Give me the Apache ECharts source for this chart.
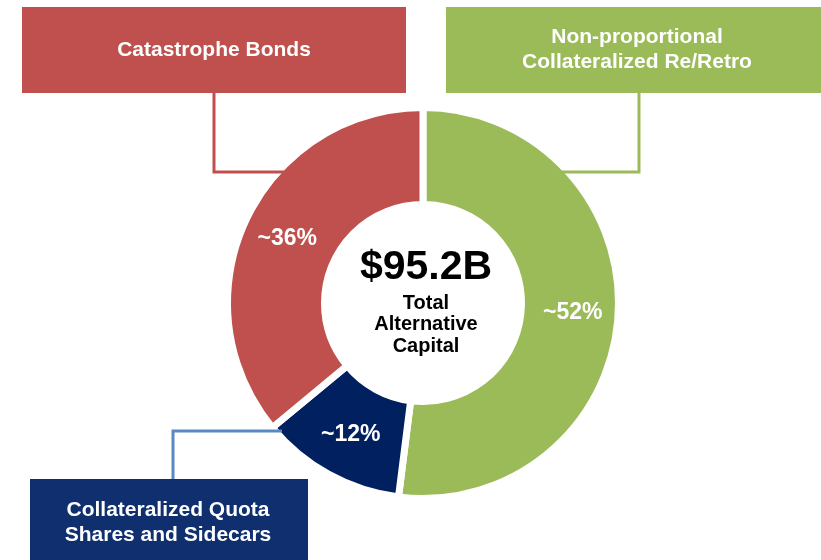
<!DOCTYPE html>
<html>
<head>
<meta charset="utf-8">
<title>Alternative Capital</title>
<script src="https://cdn.jsdelivr.net/npm/echarts@6/dist/echarts.min.js"></script>
<style>
  html, body { margin: 0; padding: 0; background: #ffffff; }
  #chart { width: 821px; height: 560px; }
</style>
</head>
<body>
<div id="chart"></div>
<script>
// Segments of alternative reinsurance capital (share of total, %)
const categories = [
  'Non-proportional\nCollateralized Re/Retro',
  'Collateralized Quota\nShares and Sidecars',
  'Catastrophe Bonds'
];
const shares = [52, 12, 36];
const shareLabels = ['~52%', '~12%', '~36%'];
const totalLabel = '$95.2B';
const totalCaption = ['Total', 'Alternative', 'Capital'];

const sliceColors = ['#9BBB59', '#002060', '#C0504D'];
const boxColors = ['#9BBB59', '#0F2F6E', '#C0504D'];
const lineColors = ['#9BBB59', '#5A88C4', '#C0504D'];
const FONT = 'Arial, "Liberation Sans", Helvetica, sans-serif';

const chart = echarts.init(document.getElementById('chart'), null, { renderer: 'canvas' });

// Callout boxes and their connectors (one per category, same order as categories)
const boxes = [
  { x: 446, y: 7, w: 390, h: 86, tx: 637, ty: 50 },
  { x: 30, y: 479, w: 278, h: 90, tx: 168, ty: 523 },
  { x: 22, y: 7, w: 384, h: 86, tx: 214, ty: 50 }
];
const connectors = [
  [[639, 93], [639, 172], [561, 172]],
  [[282, 431], [173, 431], [173, 484], [211, 484]],
  [[214, 93], [214, 172], [285, 172]]
];

const graphics = [];
categories.forEach((name, i) => {
  graphics.push({
    type: 'polyline', z: 4,
    shape: { points: connectors[i] },
    style: { stroke: lineColors[i], lineWidth: 3, fill: null }
  });
  graphics.push({
    type: 'rect', z: 5,
    shape: { x: boxes[i].x, y: boxes[i].y, width: boxes[i].w, height: boxes[i].h },
    style: { fill: boxColors[i] }
  });
  graphics.push({
    type: 'text', z: 6,
    x: boxes[i].tx, y: boxes[i].ty,
    style: {
      text: name, fill: '#ffffff', font: 'bold 21px ' + FONT,
      align: 'center', verticalAlign: 'middle', lineHeight: 25
    }
  });
});

// Total in the donut hole
graphics.push({
  type: 'text', z: 6, x: 426, y: 268,
  style: { text: totalLabel, fill: '#000000', font: 'bold 41px ' + FONT,
           align: 'center', verticalAlign: 'middle' }
});
totalCaption.forEach((t, k) => {
  graphics.push({
    type: 'text', z: 6, x: 426, y: 303 + k * 21.5,
    style: { text: t, fill: '#000000', font: 'bold 20px ' + FONT,
             align: 'center', verticalAlign: 'middle' }
  });
});

chart.setOption({
  backgroundColor: '#ffffff',
  animation: false,
  graphic: graphics,
  series: [{
    type: 'pie',
    z: 3,
    center: [423, 303],
    radius: [98.5, 195.5],
    startAngle: 90,
    clockwise: true,
    silent: true,
    itemStyle: { borderColor: '#ffffff', borderWidth: 7 },
    label: {
      show: true,
      position: 'inside',
      color: '#ffffff',
      fontFamily: FONT,
      fontWeight: 'bold',
      fontSize: 23,
      formatter: p => shareLabels[p.dataIndex]
    },
    labelLine: { show: false },
    data: shares.map((v, i) => ({
      value: v,
      name: categories[i],
      itemStyle: { color: sliceColors[i] }
    }))
  }]
});
</script>
</body>
</html>
